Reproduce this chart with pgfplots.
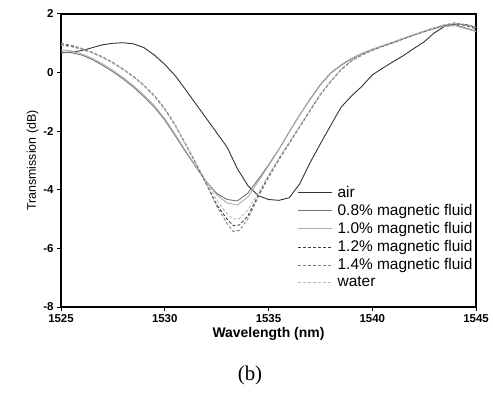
\documentclass[border=0pt]{standalone}
\usepackage{pgfplots}
\pgfplotsset{compat=1.18}
\usepackage{fontspec}
\setmainfont{Liberation Sans}
\newfontfamily\capfont{Liberation Serif}

\definecolor{cair}{gray}{0.2}
\definecolor{ceight}{gray}{0.45}
\definecolor{cten}{gray}{0.68}
\definecolor{ctwelve}{gray}{0.25}
\definecolor{cfourteen}{gray}{0.5}
\definecolor{cwater}{gray}{0.72}

\begin{document}
\begin{tikzpicture}
\begin{axis}[
    scale only axis,
    width=415bp, height=293bp,
    xmin=1525, xmax=1545,
    ymin=-8, ymax=2,
    xtick={1525,1530,1535,1540,1545},
    ytick={-8,-6,-4,-2,0,2},
    xtick pos=bottom, ytick pos=left,
    tick align=outside,
    major tick length=4bp,
    axis line style={line width=1.4pt},
    every tick/.style={black, line width=1pt},
    /pgf/number format/assume math mode=true,
    /pgf/number format/1000 sep={},
    tick label style={font=\fontsize{11.5}{13}\selectfont\bfseries},
    xlabel={Wavelength (nm)},
    ylabel={Transmission (dB)},
    xlabel style={font=\fontsize{14}{16}\selectfont\bfseries, yshift=2bp},
    ylabel style={font=\fontsize{12.5}{15}\selectfont, yshift=-2bp},
    legend style={at={(rel axis cs:0.57,0.42)}, anchor=north west,
        draw=none, fill=none, font=\fontsize{15.5}{18}\selectfont,
        row sep=1.5bp, inner sep=0pt},
    legend cell align=left,
    legend image code/.code={\draw[#1] (0bp,0bp) -- (34bp,0bp); \path (37bp,0bp);},
]

% air
\addplot[color=cair, line width=0.9pt] coordinates {
(1525.0,0.68)(1525.5,0.70)(1526.0,0.75)(1526.5,0.85)(1527.0,0.95)(1527.5,1.00)
(1528.0,1.02)(1528.5,0.98)(1529.0,0.85)(1529.5,0.60)(1530.0,0.28)(1530.5,-0.10)
(1531.0,-0.58)(1531.5,-1.07)(1532.0,-1.56)(1532.5,-2.05)(1533.0,-2.54)(1533.5,-3.28)
(1534.0,-3.85)(1534.5,-4.20)(1535.0,-4.33)(1535.5,-4.36)(1536.0,-4.27)(1536.5,-3.80)
(1537.0,-3.08)(1537.5,-2.43)(1538.0,-1.80)(1538.5,-1.18)(1539.0,-0.80)(1539.5,-0.47)
(1540.0,-0.08)(1540.5,0.15)(1541.0,0.37)(1541.5,0.58)(1542.0,0.82)(1542.5,1.05)
(1543.0,1.36)(1543.5,1.58)(1544.0,1.66)(1544.5,1.64)(1545.0,1.55)
};

% 0.8%
\addplot[color=ceight, line width=0.9pt] coordinates {
(1525.0,0.70)(1525.5,0.68)(1526.0,0.60)(1526.5,0.45)(1527.0,0.25)(1527.5,0.03)
(1528.0,-0.22)(1528.5,-0.50)(1529.0,-0.82)(1529.5,-1.18)(1530.0,-1.62)(1530.5,-2.15)
(1531.0,-2.70)(1531.5,-3.22)(1532.0,-3.72)(1532.5,-4.12)(1533.0,-4.33)(1533.5,-4.38)
(1534.0,-4.12)(1534.5,-3.65)(1535.0,-3.15)(1535.5,-2.62)(1536.0,-2.02)(1536.5,-1.45)
(1537.0,-0.92)(1537.5,-0.42)(1538.0,-0.02)(1538.5,0.25)(1539.0,0.47)(1539.5,0.64)
(1540.0,0.78)(1540.5,0.90)(1541.0,1.02)(1541.5,1.16)(1542.0,1.28)(1542.5,1.40)
(1543.0,1.51)(1543.5,1.60)(1544.0,1.64)(1544.5,1.52)(1545.0,1.42)
};

% 1.0%
\addplot[color=cten, line width=0.9pt] coordinates {
(1525.0,0.78)(1525.5,0.74)(1526.0,0.64)(1526.5,0.49)(1527.0,0.30)(1527.5,0.08)
(1528.0,-0.17)(1528.5,-0.45)(1529.0,-0.77)(1529.5,-1.13)(1530.0,-1.57)(1530.5,-2.10)
(1531.0,-2.66)(1531.5,-3.20)(1532.0,-3.72)(1532.5,-4.17)(1533.0,-4.45)(1533.5,-4.52)
(1534.0,-4.25)(1534.5,-3.72)(1535.0,-3.18)(1535.5,-2.63)(1536.0,-2.03)(1536.5,-1.45)
(1537.0,-0.90)(1537.5,-0.40)(1538.0,0.00)(1538.5,0.27)(1539.0,0.49)(1539.5,0.66)
(1540.0,0.80)(1540.5,0.92)(1541.0,1.04)(1541.5,1.17)(1542.0,1.29)(1542.5,1.40)
(1543.0,1.50)(1543.5,1.58)(1544.0,1.60)(1544.5,1.50)(1545.0,1.40)
};

% 1.2%
\addplot[color=ctwelve, line width=0.9pt, dash pattern=on 3bp off 2bp] coordinates {
(1525.0,0.95)(1525.5,0.90)(1526.0,0.80)(1526.5,0.68)(1527.0,0.52)(1527.5,0.33)
(1528.0,0.10)(1528.5,-0.15)(1529.0,-0.45)(1529.5,-0.80)(1530.0,-1.25)(1530.5,-1.80)
(1531.0,-2.45)(1531.5,-3.10)(1532.0,-3.80)(1532.5,-4.50)(1533.0,-5.00)(1533.3,-5.22)
(1533.6,-5.20)(1534.0,-4.90)(1534.5,-4.20)(1535.0,-3.55)(1535.5,-2.95)(1536.0,-2.40)
(1536.5,-1.85)(1537.0,-1.30)(1537.5,-0.75)(1538.0,-0.30)(1538.5,0.10)(1539.0,0.40)
(1539.5,0.60)(1540.0,0.76)(1540.5,0.90)(1541.0,1.02)(1541.5,1.15)(1542.0,1.28)
(1542.5,1.40)(1543.0,1.52)(1543.5,1.62)(1544.0,1.68)(1544.5,1.60)(1545.0,1.50)
};

% 1.4%
\addplot[color=cfourteen, line width=0.9pt, dash pattern=on 3bp off 2bp] coordinates {
(1525.0,1.00)(1525.5,0.93)(1526.0,0.83)(1526.5,0.70)(1527.0,0.54)(1527.5,0.35)
(1528.0,0.12)(1528.5,-0.13)(1529.0,-0.43)(1529.5,-0.78)(1530.0,-1.22)(1530.5,-1.77)
(1531.0,-2.42)(1531.5,-3.08)(1532.0,-3.80)(1532.5,-4.55)(1533.0,-5.15)(1533.3,-5.42)
(1533.6,-5.38)(1534.0,-5.00)(1534.5,-4.25)(1535.0,-3.58)(1535.5,-2.98)(1536.0,-2.42)
(1536.5,-1.86)(1537.0,-1.30)(1537.5,-0.75)(1538.0,-0.30)(1538.5,0.10)(1539.0,0.40)
(1539.5,0.60)(1540.0,0.77)(1540.5,0.91)(1541.0,1.03)(1541.5,1.16)(1542.0,1.29)
(1542.5,1.41)(1543.0,1.53)(1543.5,1.63)(1544.0,1.70)(1544.5,1.63)(1545.0,1.52)
};

% water
\addplot[color=cwater, line width=0.9pt, dash pattern=on 3bp off 2bp] coordinates {
(1525.0,0.92)(1525.5,0.88)(1526.0,0.79)(1526.5,0.67)(1527.0,0.51)(1527.5,0.32)
(1528.0,0.09)(1528.5,-0.16)(1529.0,-0.46)(1529.5,-0.82)(1530.0,-1.26)(1530.5,-1.80)
(1531.0,-2.43)(1531.5,-3.07)(1532.0,-3.72)(1532.5,-4.35)(1533.0,-4.82)(1533.3,-5.00)
(1533.6,-4.98)(1534.0,-4.70)(1534.5,-4.10)(1535.0,-3.50)(1535.5,-2.92)(1536.0,-2.37)
(1536.5,-1.82)(1537.0,-1.27)(1537.5,-0.73)(1538.0,-0.28)(1538.5,0.12)(1539.0,0.42)
(1539.5,0.62)(1540.0,0.78)(1540.5,0.92)(1541.0,1.04)(1541.5,1.17)(1542.0,1.30)
(1542.5,1.42)(1543.0,1.54)(1543.5,1.63)(1544.0,1.68)(1544.5,1.62)(1545.0,1.55)
};

\legend{air, 0.8\% magnetic fluid, 1.0\% magnetic fluid, 1.2\% magnetic fluid, 1.4\% magnetic fluid, water}
\end{axis}
\node[font=\capfont\fontsize{21}{24}\selectfont] at ([shift={(189bp,-68bp)}]current axis.south west) {(b)};
\pgfresetboundingbox
\path[use as bounding box] ([shift={(-61bp,-100bp)}]current axis.south west) rectangle ([shift={(17bp,14bp)}]current axis.north east);
\end{tikzpicture}
\end{document}
